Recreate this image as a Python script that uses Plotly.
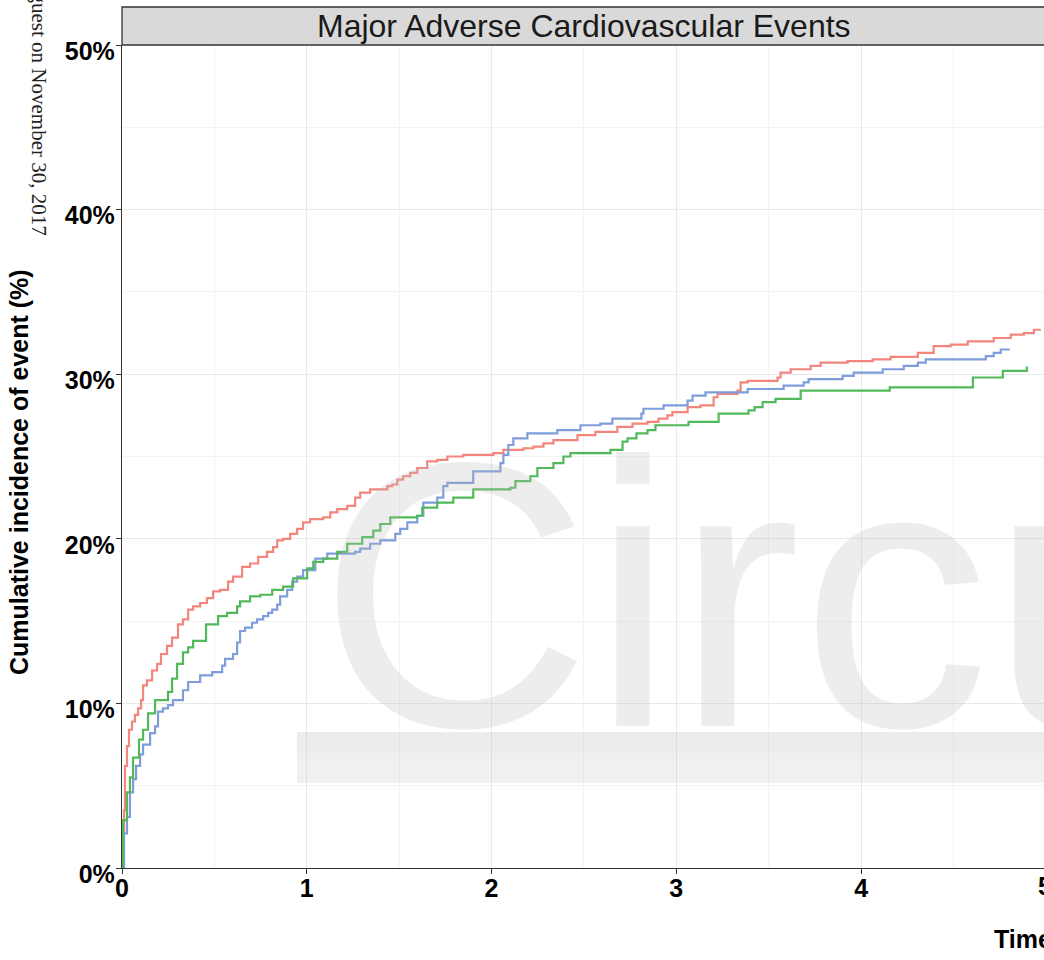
import plotly.graph_objects as go

# ---------------- data ----------------
red_t = [0, 0.005, 0.011, 0.016, 0.027, 0.038, 0.054, 0.070, 0.087, 0.103, 0.114, 0.135, 0.163, 0.190,
         0.211, 0.244, 0.271, 0.303, 0.330, 0.358, 0.385, 0.423, 0.460, 0.493, 0.531, 0.574, 0.601,
         0.650, 0.693, 0.737, 0.785, 0.818, 0.840, 0.872, 0.910, 0.948, 0.980, 1.018, 1.089, 1.127,
         1.165, 1.219, 1.262, 1.289, 1.343, 1.436, 1.463, 1.490, 1.522, 1.560, 1.598, 1.652, 1.706,
         1.761, 1.847, 2.010, 2.064, 2.172, 2.226, 2.281, 2.335, 2.465, 2.562, 2.681, 2.763, 2.844,
         2.904, 2.952, 2.979, 3.061, 3.131, 3.202, 3.223, 3.331, 3.348, 3.386, 3.548, 3.564, 3.619,
         3.727, 3.781, 3.927, 4.063, 4.160, 4.307, 4.393, 4.485, 4.577, 4.718, 4.810, 4.881, 4.935, 4.973]
red_y = [0, 2.1, 3.5, 6.2, 7.4, 8.4, 8.9, 9.3, 9.7, 10.2, 11.1, 11.4, 12.0, 12.4,
         13.0, 13.5, 14.0, 14.8, 15.1, 15.7, 15.9, 16.1, 16.4, 16.8, 16.9, 17.4, 17.7,
         18.3, 18.5, 18.9, 19.2, 19.5, 19.9, 20.0, 20.3, 20.6, 21.0, 21.2, 21.3, 21.6,
         21.8, 22.0, 22.5, 22.8, 23.0, 23.2, 23.3, 23.6, 23.8, 24.0, 24.3, 24.7, 24.8,
         25.0, 25.1, 25.2, 25.4, 25.5, 25.6, 25.8, 26.0, 26.3, 26.5, 26.8, 27.0, 27.1,
         27.3, 27.5, 27.7, 28.0, 28.1, 28.6, 28.8, 29.0, 29.5, 29.6, 29.8, 30.1, 30.3,
         30.5, 30.7, 30.8, 30.9, 31.05, 31.3, 31.7, 31.8, 32.0, 32.2, 32.4, 32.5, 32.7, 32.7]

blue_t = [0, 0.011, 0.027, 0.043, 0.060, 0.076, 0.098, 0.114, 0.152, 0.179, 0.195, 0.222, 0.249,
          0.276, 0.330, 0.358, 0.423, 0.488, 0.542, 0.558, 0.601, 0.623, 0.639, 0.666, 0.704, 0.731,
          0.764, 0.791, 0.813, 0.840, 0.856, 0.894, 0.921, 0.948, 0.980, 1.046, 1.111, 1.262, 1.289,
          1.343, 1.398, 1.479, 1.506, 1.544, 1.598, 1.631, 1.706, 1.739, 1.761, 1.901, 2.048, 2.064,
          2.091, 2.118, 2.194, 2.356, 2.481, 2.589, 2.654, 2.811, 2.822, 2.931, 3.061, 3.088, 3.158,
          3.386, 3.581, 3.689, 3.716, 3.900, 3.960, 4.117, 4.231, 4.307, 4.350, 4.675, 4.718, 4.756, 4.805]
blue_y = [0, 2.1, 3.1, 4.6, 5.4, 6.2, 6.9, 7.5, 8.2, 8.6, 9.5, 9.7, 9.9,
          10.2, 10.8, 11.3, 11.7, 11.9, 12.3, 12.7, 13.0, 13.7, 14.4, 14.6, 14.9, 15.1,
          15.3, 15.5, 15.7, 16.0, 16.5, 16.9, 17.4, 17.7, 18.1, 18.8, 19.1, 19.2, 19.4,
          19.7, 19.9, 20.3, 20.6, 21.0, 21.4, 22.2, 22.5, 23.2, 23.4, 24.1, 24.6, 25.1,
          25.7, 26.1, 26.4, 26.6, 26.9, 27.0, 27.3, 27.6, 27.9, 28.1, 28.4, 28.7, 28.9,
          29.1, 29.3, 29.5, 29.7, 29.9, 30.1, 30.3, 30.5, 30.7, 30.9, 31.1, 31.3, 31.5, 31.5]

green_t = [0, 0.005, 0.027, 0.043, 0.060, 0.092, 0.114, 0.141, 0.179, 0.249, 0.271, 0.298, 0.330,
           0.358, 0.385, 0.455, 0.520, 0.569, 0.623, 0.639, 0.693, 0.748, 0.813, 0.872, 0.926, 1.002,
           1.035, 1.089, 1.165, 1.219, 1.300, 1.360, 1.398, 1.452, 1.598, 1.625, 1.706, 1.793, 1.901,
           2.102, 2.129, 2.210, 2.248, 2.335, 2.389, 2.427, 2.644, 2.709, 2.736, 2.784, 2.844, 2.887,
           3.066, 3.229, 3.391, 3.424, 3.467, 3.537, 3.673, 4.155, 4.605, 4.767, 4.897, 4.903]
green_y = [0, 2.9, 4.6, 5.5, 6.7, 7.8, 8.4, 9.4, 10.2, 10.7, 11.5, 12.4, 13.1,
           13.4, 13.8, 14.8, 15.3, 15.5, 15.9, 16.2, 16.5, 16.6, 16.9, 17.1, 17.6, 18.2,
           18.6, 18.8, 19.2, 19.7, 20.1, 20.5, 20.9, 21.3, 21.4, 21.9, 22.2, 22.5, 23.0,
           23.1, 23.5, 23.8, 24.3, 24.6, 25.0, 25.2, 25.4, 25.9, 26.1, 26.4, 26.6, 26.9,
           27.1, 27.6, 27.8, 28.0, 28.3, 28.5, 29.0, 29.2, 29.8, 30.2, 30.4, 30.4]

series_colors = ["#F2857C", "#7E9DDA", "#52B95A"]
x_ticks = [0, 1, 2, 3, 4]
y_ticks = [0, 10, 20, 30, 40, 50]
y_tick_text = ["0%", "10%", "20%", "30%", "40%", "50%"]
panel_title = "Major Adverse Cardiovascular Events"
y_title = "Cumulative incidence of event (%)"
x_title = "Time"
side_note = "Downloaded from http://circ.ahajournals.org/ by guest on November 30, 2017"
watermark = "Circulation"

# ---------------- layout geometry ----------------
W, H = 1044, 960
L, R, T, B = 122, 0, 45, 92
PW, PH = W - L - R, H - T - B


def px(xp):
    return (xp - L) / PW


def py(yp):
    return (H - B - yp) / PH


BOLD = dict(family="Liberation Sans, Arial, sans-serif", color="black", weight="bold")

fig = go.Figure()
for t, y, c in [(red_t, red_y, series_colors[0]), (blue_t, blue_y, series_colors[1]),
                (green_t, green_y, series_colors[2])]:
    fig.add_trace(go.Scatter(x=t, y=y, mode="lines", line=dict(shape="hv", width=2.2, color=c),
                             showlegend=False, hoverinfo="skip"))

fig.update_layout(
    width=W, height=H,
    margin=dict(l=L, r=R, t=T, b=B, pad=0),
    paper_bgcolor="white", plot_bgcolor="white",
    xaxis=dict(range=[0, 4.99], tickvals=x_ticks, ticks="outside", ticklen=5, tickwidth=1.2,
               tickcolor="#333333", showline=True, linecolor="#333333", linewidth=1.3,
               showgrid=True, gridcolor="#e9e9e9", gridwidth=1.4, zeroline=False,
               tickfont=dict(size=25, **BOLD), ticklabelstandoff=-7,
               minor=dict(dtick=0.5, tick0=0, showgrid=True, gridcolor="#f3f3f3", gridwidth=1, ticks="")),
    yaxis=dict(range=[0, 50], tickvals=y_ticks, ticktext=y_tick_text, ticks="outside", ticklen=5,
               tickwidth=1.2, tickcolor="#333333", showline=True, linecolor="#333333", linewidth=1.3,
               showgrid=True, gridcolor="#e9e9e9", gridwidth=1.4, zeroline=False,
               tickfont=dict(size=25, **BOLD), ticklabelshift=6, ticklabelstandoff=-4,
               minor=dict(dtick=5, tick0=0, showgrid=True, gridcolor="#f3f3f3", gridwidth=1, ticks="")),
)

shapes = [
    # strip
    dict(type="rect", xref="paper", yref="paper", x0=0, x1=1.2, y0=1.0, y1=py(7),
         fillcolor="#d9d9d9", line=dict(color="#333333", width=1.3), layer="above"),
    # watermark bar
    dict(type="rect", xref="paper", yref="paper", x0=px(297), x1=1.2, y0=py(753), y1=py(732),
         fillcolor="rgba(185,185,185,0.27)", line=dict(width=0), layer="above"),
    dict(type="rect", xref="paper", yref="paper", x0=px(297), x1=1.2, y0=py(783), y1=py(753),
         fillcolor="rgba(185,185,185,0.21)", line=dict(width=0), layer="above"),
]
fig.update_layout(shapes=shapes)

annotations = [
    dict(text=watermark, xref="paper", yref="paper", x=px(316), y=py(382), xanchor="left", yanchor="top",
         showarrow=False, font=dict(family="Liberation Sans, Arial, sans-serif", size=378,
                                    color="rgba(185,185,185,0.26)")),
    dict(text=panel_title, xref="paper", yref="paper", x=px(584), y=py(26), xanchor="center",
         yanchor="middle", showarrow=False,
         font=dict(family="Liberation Sans, Arial, sans-serif", size=32, color="#1a1a1a")),
    dict(text="5", xref="paper", yref="paper", x=px(1045), y=py(886), xanchor="center", yanchor="middle",
         showarrow=False, font=dict(size=25, **BOLD)),
    dict(text=x_title, xref="paper", yref="paper", x=px(992), y=py(939), xanchor="left", yanchor="middle",
         showarrow=False, font=dict(size=25, **BOLD)),
    dict(text=y_title, xref="paper", yref="paper", x=px(19), y=py(472), xanchor="center", yanchor="middle",
         textangle=-90, showarrow=False, font=dict(size=25, **BOLD)),
    dict(text=side_note, xref="paper", yref="paper", x=px(39), y=py(238), xanchor="center", yanchor="bottom",
         textangle=90, showarrow=False,
         font=dict(family="Liberation Serif, Times New Roman, serif", size=21, color="#222222")),
]
fig.update_layout(annotations=annotations)

fig.write_html("out.html", config={"displayModeBar": False},
               post_script="document.body.style.margin='0';document.body.style.overflow='hidden';")
